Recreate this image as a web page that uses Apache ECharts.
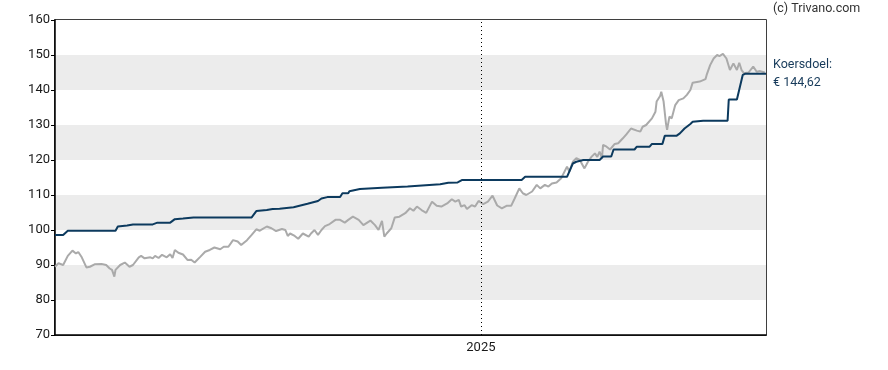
<!DOCTYPE html>
<html>
<head>
<meta charset="utf-8">
<script src="https://cdn.jsdelivr.net/npm/echarts@6/dist/echarts.min.js"></script>
<style>
html,body{margin:0;padding:0;background:#fff;}
#chart{width:888px;height:370px;}
</style>
</head>
<body>
<div id="chart"></div>
<script>
// ---- data ----
const priceDates = [
'2024-01-01','2024-01-04','2024-01-08','2024-01-12','2024-01-16','2024-01-19','2024-01-21','2024-01-24','2024-01-28','2024-01-31',
'2024-02-04','2024-02-10','2024-02-14','2024-02-17','2024-02-19','2024-02-21','2024-02-22','2024-02-26','2024-03-01','2024-03-05',
'2024-03-08','2024-03-13','2024-03-15','2024-03-18','2024-03-23','2024-03-25','2024-03-27','2024-03-30','2024-04-02','2024-04-06',
'2024-04-09','2024-04-11','2024-04-13','2024-04-16','2024-04-20','2024-04-24','2024-04-27','2024-04-30','2024-05-05','2024-05-09',
'2024-05-13','2024-05-17','2024-05-22','2024-05-25','2024-05-29','2024-06-02','2024-06-06','2024-06-09','2024-06-14','2024-06-18',
'2024-06-22','2024-06-25','2024-07-01','2024-07-05','2024-07-09','2024-07-14','2024-07-17','2024-07-19','2024-07-21','2024-07-25',
'2024-07-28','2024-08-01','2024-08-06','2024-08-08','2024-08-11','2024-08-14','2024-08-17','2024-08-20','2024-08-24','2024-08-29',
'2024-09-02','2024-09-06','2024-09-09','2024-09-13','2024-09-18','2024-09-22','2024-09-28','2024-10-02','2024-10-05','2024-10-08',
'2024-10-10','2024-10-12','2024-10-16','2024-10-19','2024-10-23','2024-10-28','2024-11-01','2024-11-04','2024-11-07','2024-11-11',
'2024-11-15','2024-11-20','2024-11-24','2024-11-28','2024-12-03','2024-12-07','2024-12-10','2024-12-13','2024-12-15','2024-12-18',
'2024-12-20','2024-12-24','2024-12-27','2024-12-30','2025-01-03','2025-01-07','2025-01-11','2025-01-15','2025-01-19','2025-01-23',
'2025-01-27','2025-01-30','2025-02-03','2025-02-06','2025-02-09','2025-02-14','2025-02-18','2025-02-21','2025-02-25','2025-02-28',
'2025-03-03','2025-03-07','2025-03-11','2025-03-16','2025-03-18','2025-03-21','2025-03-24','2025-03-27','2025-03-31','2025-04-03',
'2025-04-06','2025-04-09','2025-04-11','2025-04-13','2025-04-15','2025-04-16','2025-04-19','2025-04-22','2025-04-26','2025-04-29',
'2025-05-03','2025-05-06','2025-05-10','2025-05-15','2025-05-18','2025-05-20','2025-05-23','2025-05-28','2025-05-31','2025-06-01',
'2025-06-04','2025-06-05','2025-06-07','2025-06-09','2025-06-10','2025-06-12','2025-06-14','2025-06-17','2025-06-20','2025-06-24',
'2025-06-27','2025-06-30','2025-07-02','2025-07-08','2025-07-13','2025-07-14','2025-07-17','2025-07-20','2025-07-23','2025-07-25',
'2025-07-28','2025-07-31','2025-08-03','2025-08-06','2025-08-09','2025-08-11','2025-08-13','2025-08-15','2025-08-19','2025-08-23',
'2025-08-26','2025-08-29','2025-09-02'
];
const priceValues = [
89.5,90.5,90.0,92.6,94.1,93.3,93.7,92.2,89.3,89.5,
90.2,90.3,90.0,89.0,88.6,86.7,88.6,90.0,90.7,89.5,
90.0,92.2,92.6,91.9,92.2,91.9,92.6,92.0,92.9,92.2,
93.1,92.0,94.3,93.5,93.0,91.4,91.5,90.7,92.4,93.8,
94.3,95.0,94.5,95.2,95.2,97.1,96.7,95.7,97.1,98.6,
100.2,99.8,101.0,100.5,99.7,100.3,100.0,98.3,99.0,98.3,
97.5,99.0,98.1,99.0,100.0,98.6,100.0,101.1,101.7,102.9,
102.9,102.1,102.9,103.8,102.9,101.4,102.7,101.4,100.0,102.6,
98.1,99.0,100.5,103.6,103.8,104.8,106.2,105.5,106.7,105.7,
104.9,108.1,106.9,106.7,107.6,108.8,108.1,108.6,106.7,107.1,
106.0,107.1,106.7,108.3,107.4,108.1,109.8,107.0,106.2,106.9,
106.9,109.0,111.9,110.5,110.0,111.0,112.9,111.9,112.9,112.4,
113.3,113.6,114.8,118.1,116.7,119.5,120.5,120.0,117.6,119.5,
120.9,121.9,120.9,122.4,120.5,124.3,123.8,123.0,124.6,124.8,
126.2,127.3,129.0,128.4,128.1,129.5,130.0,131.9,133.8,136.7,
138.3,139.5,136.7,130.5,128.6,132.4,131.9,135.7,137.1,137.6,
138.6,140.0,142.1,142.4,143.1,144.3,147.1,149.0,150.0,149.7,
150.3,149.0,145.7,147.6,145.7,147.8,145.7,144.8,145.0,146.7,
145.2,145.4,145.0
];
const targetDates = [
'2024-01-01','2024-01-08','2024-01-12','2024-02-22','2024-02-24','2024-03-03','2024-03-08','2024-03-25','2024-03-29','2024-04-09',
'2024-04-13','2024-04-20','2024-04-29','2024-06-18','2024-06-22','2024-07-01','2024-07-06','2024-07-12','2024-07-24','2024-08-05',
'2024-08-14','2024-08-17','2024-08-22','2024-09-02','2024-09-04','2024-09-09','2024-09-10','2024-09-19','2024-10-08','2024-10-30',
'2024-11-27','2024-12-04','2024-12-12','2024-12-16','2025-02-05','2025-02-08','2025-03-16','2025-03-21','2025-03-24','2025-03-30',
'2025-04-13','2025-04-16','2025-04-23','2025-04-25','2025-05-13','2025-05-15','2025-05-26','2025-05-28','2025-06-06','2025-06-08',
'2025-06-18','2025-06-21','2025-06-25','2025-06-30','2025-07-02','2025-07-11','2025-08-01','2025-08-02','2025-08-09','2025-08-14',
'2025-08-16','2025-09-03'
];
const targetValues = [
98.6,98.6,99.8,99.8,101.0,101.3,101.6,101.6,102.1,102.1,
103.1,103.3,103.6,103.6,105.4,105.7,106.0,106.1,106.5,107.5,
108.3,109.0,109.4,109.4,110.5,110.5,111.1,111.7,112.1,112.4,
113.1,113.5,113.6,114.3,114.3,115.2,115.2,119.0,119.5,120.0,
120.0,121.0,121.0,123.0,123.0,123.8,123.8,124.6,124.6,126.9,
126.9,127.6,129.0,130.3,130.9,131.2,131.2,137.3,137.3,144.3,
144.62,144.62
];
const yTicks = [70, 80, 90, 100, 110, 120, 130, 140, 150, 160];
const yearMarker = '2025-01-01';
const yearLabel = '2025';
const axisStart = '2024-01-01';
const axisEnd = '2025-09-03';
const copyright = '(c) Trivano.com';
const targetLabel = 'Koersdoel:';

// ---- chart ----
const FONT = 'Roboto';
const chart = echarts.init(document.getElementById('chart'), null, {renderer: 'canvas'});
const lastTarget = targetValues[targetValues.length - 1];
const targetText = '€ ' + lastTarget.toFixed(2).replace('.', ',');

chart.setOption({
  animation: false,
  backgroundColor: '#fff',
  textStyle: {fontFamily: FONT},
  grid: {left: 55, right: 122, top: 20, bottom: 35, show: true, borderColor: '#000', borderWidth: 1.5, backgroundColor: 'transparent'},
  xAxis: {
    type: 'time',
    min: axisStart,
    max: axisEnd,
    axisLine: {show: true, lineStyle: {color: '#000', width: 1.5}},
    axisTick: {show: false},
    axisLabel: {show: false},
    splitLine: {show: false}
  },
  yAxis: {
    type: 'value',
    min: yTicks[0],
    max: yTicks[yTicks.length - 1],
    interval: 10,
    axisLine: {show: true, lineStyle: {color: '#000', width: 1.5}},
    axisTick: {show: true, length: 4, lineStyle: {color: '#000', width: 1}},
    axisLabel: {color: '#1a1a1a', fontSize: 13, fontFamily: FONT, margin: 5},
    splitLine: {show: false},
    splitArea: {show: true, areaStyle: {color: ['#ffffff', '#ececec']}}
  },
  graphic: [
    {type: 'text', left: 773, top: 2, style: {text: copyright, fill: '#333', font: '12.5px ' + FONT}},
    {type: 'text', left: 773, top: 58, style: {text: targetLabel, fill: '#163a5a', font: '12.5px ' + FONT}},
    {type: 'text', left: 773, top: 76, style: {text: targetText, fill: '#163a5a', font: '12.5px ' + FONT}}
  ],
  series: [
    {
      name: 'Koers',
      type: 'line',
      data: priceDates.map((d, i) => [d, priceValues[i]]),
      showSymbol: false,
      lineStyle: {color: '#aaaaaa', width: 2},
      itemStyle: {color: '#aaaaaa'},
      z: 3,
      markLine: {
        silent: true,
        symbol: ['none', 'none'],
        lineStyle: {color: '#000', type: [1, 3], width: 1},
        label: {show: true, position: 'start', formatter: yearLabel, color: '#1a1a1a', fontSize: 13, fontFamily: FONT, distance: 6},
        data: [{xAxis: yearMarker}]
      }
    },
    {
      name: 'Koersdoel',
      type: 'line',
      data: targetDates.map((d, i) => [d, targetValues[i]]),
      showSymbol: false,
      lineStyle: {color: '#0c3a5e', width: 2},
      itemStyle: {color: '#0c3a5e'},
      z: 4
    }
  ]
});
</script>
</body>
</html>
